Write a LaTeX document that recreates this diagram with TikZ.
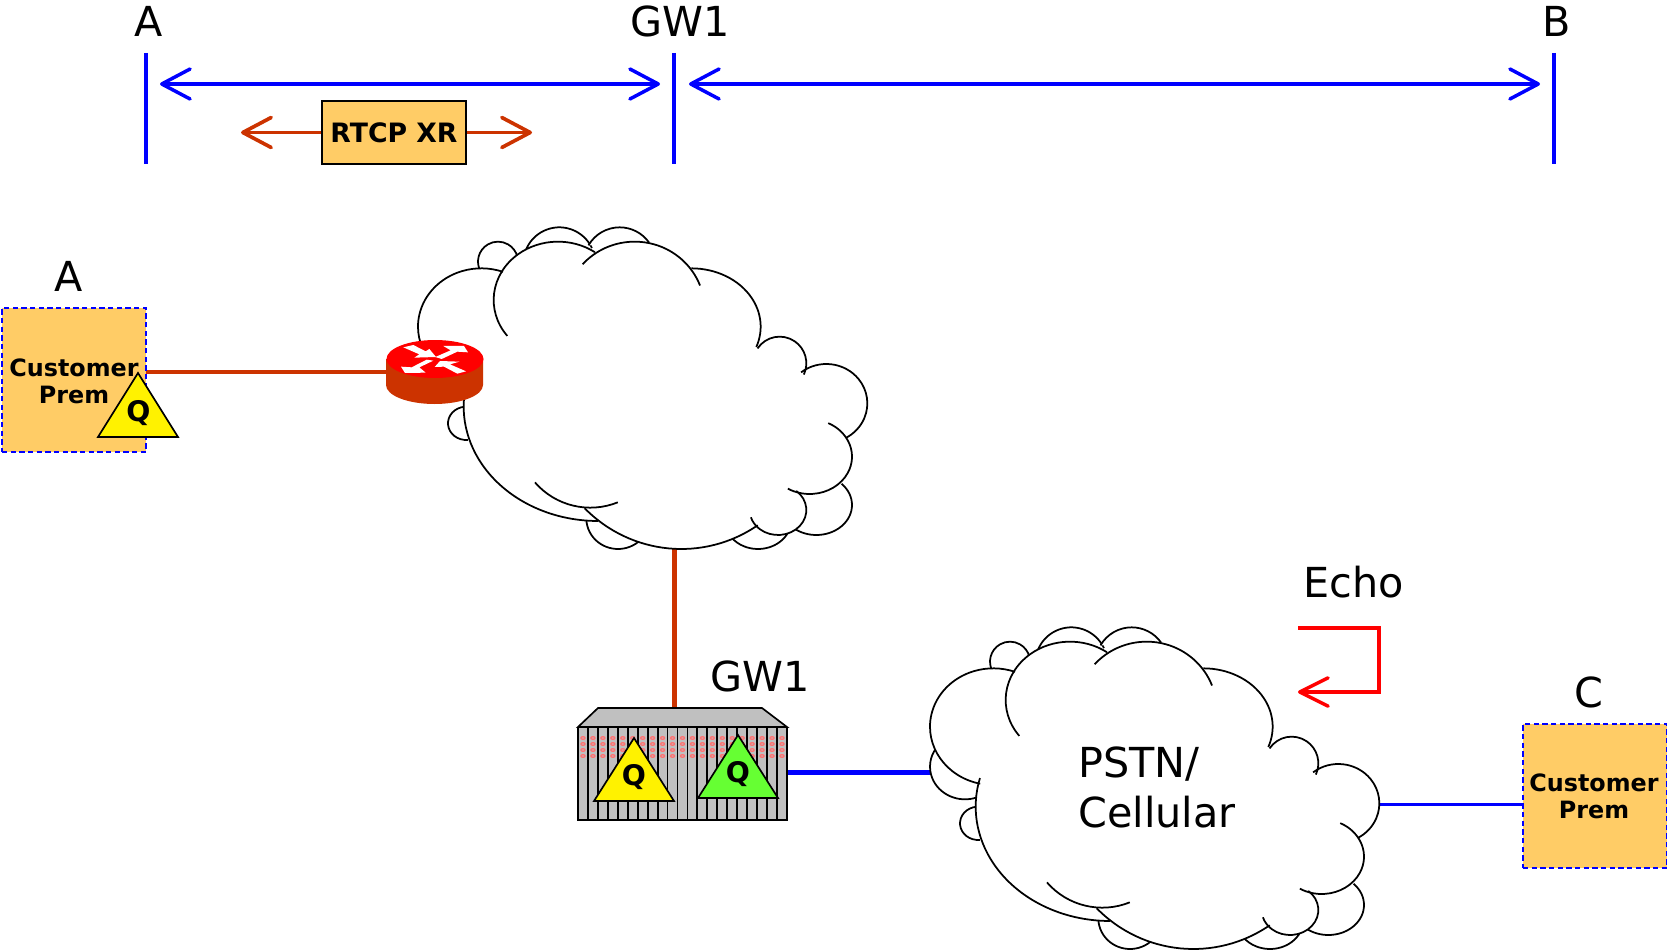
\documentclass[tikz,border=0pt]{standalone}
\usepackage{fontspec}
\setmainfont{DejaVu Sans}
\usetikzlibrary{arrows.meta}
\definecolor{custfill}{HTML}{FFCC66}
\definecolor{rust}{HTML}{CC3300}
\definecolor{qgreen}{HTML}{66FF33}
\definecolor{devgrey}{HTML}{C0C0C0}
% lobe: centre x, centre y, x radius, y radius, start angle, end angle
\newcommand\lobepath[6]{({#1+(#3)*cos(#5)},{#2+(#4)*sin(#5)}) arc[start angle=#5,end angle=#6,x radius=#3,y radius=#4]}
\newcommand\filllobe[6]{\fill[white] \lobepath{#1}{#2}{#3}{#4}{#5}{#6};}
\newcommand\strokelobe[6]{\draw[cloudline] \lobepath{#1}{#2}{#3}{#4}{#5}{#6};}
\newcommand\bothlobe[6]{\filllobe{#1}{#2}{#3}{#4}{#5}{#6}\strokelobe{#1}{#2}{#3}{#4}{#5}{#6}}
\newcommand\mainlobes[1]{%
 #1{250}{350}{190}{175}{102}{290}
 #1{480}{270}{193}{175}{142}{305}
 #1{710}{300}{210}{205}{222}{339}
 #1{880}{350}{208}{175}{270}{380.4}
 #1{1145}{460}{80}{80}{214}{385}
 #1{1285}{580}{123}{118}{232}{422}
 #1{1235}{740}{127}{112}{296}{481}
 #1{1140}{900}{85}{75}{-50}{163}
 #1{850}{600}{410}{417}{56}{135}
 #1{600}{590}{403}{343}{90}{194.5}
}
\newcommand\cloudshape[2]{%
\begin{scope}[shift={(#1,#2)},x=0.2pt,y=-0.2pt]
 \bothlobe{300}{155}{60}{60}{150}{345}
 \bothlobe{484}{160}{108}{108}{200}{335}
 \bothlobe{665}{160}{108}{108}{210}{325}
 \bothlobe{165}{470}{105}{98}{70}{214}
 \bothlobe{205}{640}{55}{50}{85}{265}
 \bothlobe{660}{925}{95}{92}{45}{185}
 \bothlobe{1080}{930}{100}{87}{25}{143}
 \bothlobe{1255}{885}{107}{90}{-45}{124}
 \mainlobes{\filllobe}
 \fill[white] (200,590)--(210,515)--(315,183)--(590,125)--(880,175)--(1075,410)--(1212,490)--(1340,672)--(1330,815)--(1195,950)--(1075,945)--(600,933)--cycle;
 \mainlobes{\strokelobe}
 \strokelobe{577}{673}{220}{220}{139}{68}
\end{scope}}
\newcommand\qtri[4]{% apex x, apex y, colour, name
 \draw[tribox,fill=#3] (#1,#2)--(#1-40,#2+63)--(#1+40,#2+63)--cycle;
 \node[qlabel] (#4) at (#1,#2+39.5) {Q};}
\tikzset{
 cloudline/.style={black,line width=1.05pt},
 lab/.style={inner sep=0pt,font=\fontsize{24.8}{30}\selectfont},
 bluebar/.style={blue,line width=2.1pt},
 bluearrow/.style={blue,line width=2.1pt,{Straight Barb[length=17pt,width=18pt,round]}-{Straight Barb[length=17pt,width=18pt,round]}},
 rustarrow/.style={rust,line width=2.2pt,-{Straight Barb[length=17pt,width=18pt,round]}},
 custbox/.style={draw=blue,dashed,dash pattern=on 3.2pt off 2pt,line width=1pt,fill=custfill,minimum width=86.4pt,minimum height=86.4pt,inner sep=0pt},
 custlab/.style={inner sep=0pt,align=center,font=\fontsize{14.3}{16}\selectfont\bfseries},
 tribox/.style={draw=black,line width=1pt,line join=miter},
 qlabel/.style={inner sep=0pt,font=\fontsize{17}{18}\selectfont\bfseries},
}
\begin{document}
\begin{tikzpicture}[x=0.6pt,y=-0.6pt]
\useasboundingbox (0,0) rectangle (1667,951.5);
% top ruler
\node[lab] (ta) at (149,21) {A};
\node[lab] (tgw) at (680,21) {GW1};
\node[lab] (tb) at (1557,21) {B};
\coordinate (ba1) at (146,53); \coordinate (ba2) at (146,164);
\coordinate (bg1) at (674,53); \coordinate (bg2) at (674,164);
\coordinate (bb1) at (1554,53); \coordinate (bb2) at (1554,164);
\draw[bluebar] (ba1)--(ba2);
\draw[bluebar] (bg1)--(bg2);
\draw[bluebar] (bb1)--(bb2);
\coordinate (l1) at (160,84); \coordinate (l2) at (660,84);
\coordinate (l3) at (689,84); \coordinate (l4) at (1540,84);
\draw[bluearrow] (l1)--(l2);
\draw[bluearrow] (l3)--(l4);
\node[draw=black,line width=1pt,fill=custfill,minimum width=86.4pt,minimum height=37.8pt,inner sep=0pt,font=\fontsize{16}{18}\selectfont\bfseries] (rtcp) at (394,132.5) {RTCP XR};
\coordinate (ra) at (241,132.5); \coordinate (rb) at (532,132.5);
\draw[rustarrow] (rtcp.west)--(ra);
\draw[rustarrow] (rtcp.east)--(rb);
% connectors beneath the clouds
\coordinate (routerW) at (386,372);
\coordinate (custAE) at (146,372);
\draw[rust,line width=2.4pt] (custAE)--(routerW);
\coordinate (cl1b) at (674,540); \coordinate (gwt) at (674,708);
\draw[rust,line width=3pt] (cl1b)--(gwt);
\coordinate (gwe) at (787,772); \coordinate (cl2w) at (935,772);
\draw[blue,line width=3pt] (gwe)--(cl2w);
\coordinate (cl2e) at (1375,804.5); \coordinate (custCW) at (1522,804.5);
\draw[blue,line width=2.2pt] (cl2e)--(custCW);
% clouds
\cloudshape{398}{210}
\cloudshape{910}{610}
% customer A
\node[custbox] (custA) at (74,380) {};
\node[custlab] (custAt) at (74,381) {Customer\\Prem};
\draw[tribox,fill=yellow] (138,373)--(98,437)--(178,437)--cycle;
\node[qlabel] (qa) at (138.5,413) {Q};
\node[lab] (la) at (69,276) {A};
% router
\fill[rust] (386,359) -- (386,385) arc[start angle=180,end angle=0,x radius=48.5,y radius=19] -- (483,359) -- cycle;
\fill[red] (435,359) ellipse[x radius=48.5,y radius=19];
\begin{scope}[shift={(360,210)},x=0.2pt,y=-0.2pt]
 \fill[white] (130,412)--(160,405)--(197,424)--(208,417)--(228,441)--(163,443)--(178,433)--cycle;
 \fill[white] (226,441)--(272,421)--(250,408)--(312,408)--(324,427)--(292,425)--(245,447)--cycle;
 \fill[white] (220,452)--(178,472)--(197,488)--(135,489)--(123,470)--(155,472)--(200,449)--cycle;
 \fill[white] (224,471)--(240,453)--(298,455)--(270,463)--(318,484)--(292,491)--(252,470)--cycle;
\end{scope}
% gateway
\fill[devgrey,draw=black,line width=1pt] (578,727)--(598,708)--(762,708)--(787,727)--cycle;
\fill[devgrey] (578,727) rectangle (787,821);
\foreach \i in {0,...,21} \draw[black,line width=1.1pt] (578+\i*9.95,727)--(578+\i*9.95,821);
\draw[black,line width=1pt] (578,727)--(787,727);
\draw[black,line width=1pt] (578,820)--(787,820);
\foreach \i in {0,...,20} \foreach \y in {738,744,750,756}
 \draw[red!55,line width=.8pt] (583+\i*9.95,\y) ellipse[x radius=2,y radius=1.3];
\qtri{634}{738}{yellow}{qg1}
\qtri{738}{735}{qgreen}{qg2}
\node[lab] (lgw) at (760,676) {GW1};
% PSTN text
\node[lab,anchor=west,align=left] (pstn) at (1078,787) {PSTN/\\Cellular};
% echo
\node[lab] (echo) at (1354,582) {Echo};
\coordinate (e1) at (1298,628); \coordinate (e2) at (1379,628); \coordinate (e3) at (1379,692); \coordinate (e4) at (1298,692);
\draw[red,line width=2.1pt,line join=miter,-{Straight Barb[length=17pt,width=17pt,round]}] (e1)--(e2)--(e3)--(e4);
% customer C
\node[custbox] (custC) at (1595,796) {};
\node[custlab] (custCt) at (1594,796) {Customer\\Prem};
\node[lab] (lc) at (1589,692) {C};
\end{tikzpicture}
\end{document}
